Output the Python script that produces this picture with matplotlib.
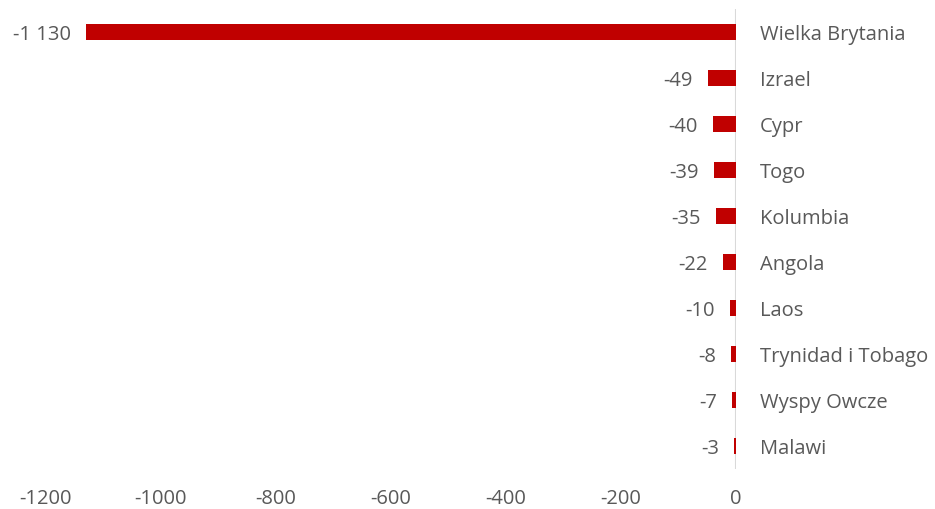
"""Horizontal bar chart of negative values with country labels on the right."""

import matplotlib

matplotlib.use("Agg")
import matplotlib.pyplot as plt

countries = [
    "Wielka Brytania",
    "Izrael",
    "Cypr",
    "Togo",
    "Kolumbia",
    "Angola",
    "Laos",
    "Trynidad i Tobago",
    "Wyspy Owcze",
    "Malawi",
]
values = [-1130, -49, -40, -39, -35, -22, -10, -8, -7, -3]
value_labels = ["-1 130", "-49", "-40", "-39", "-35", "-22", "-10", "-8", "-7", "-3"]
x_ticks = [-1200, -1000, -800, -600, -400, -200, 0]

text_color = "#595959"
fsize = 14.5
plt.rcParams["font.family"] = ["Open Sans", "DejaVu Sans"]

fig = plt.figure(figsize=(9.35, 5.10), dpi=100)
ax = fig.add_axes([46 / 935, 40 / 510, 690 / 935, 460 / 510])

pos = list(range(len(countries)))
ax.barh(pos, values, height=0.35, color="#C00000", zorder=2)
ax.axvline(0, color="#D9D9D9", linewidth=1.5, zorder=1)

for p, v, lab in zip(pos, values, value_labels):
    ax.annotate(lab, (v, p), xytext=(-11, 0), textcoords="offset points",
                ha="right", va="center_baseline", fontsize=fsize, color=text_color)

ax.set_xlim(-1200, 0)
ax.set_ylim(len(countries) - 0.5, -0.5)
ax.set_xticks(x_ticks)
ax.set_xticklabels([str(t) for t in x_ticks])
ax.set_yticks(pos)
ax.set_yticklabels(countries, va="center_baseline")
ax.yaxis.tick_right()
ax.tick_params(axis="y", length=0, pad=17, labelsize=fsize, labelcolor=text_color)
ax.tick_params(axis="x", length=0, pad=14, labelsize=fsize, labelcolor=text_color)
for spine in ax.spines.values():
    spine.set_visible(False)

fig.savefig("out.png", dpi=100)
